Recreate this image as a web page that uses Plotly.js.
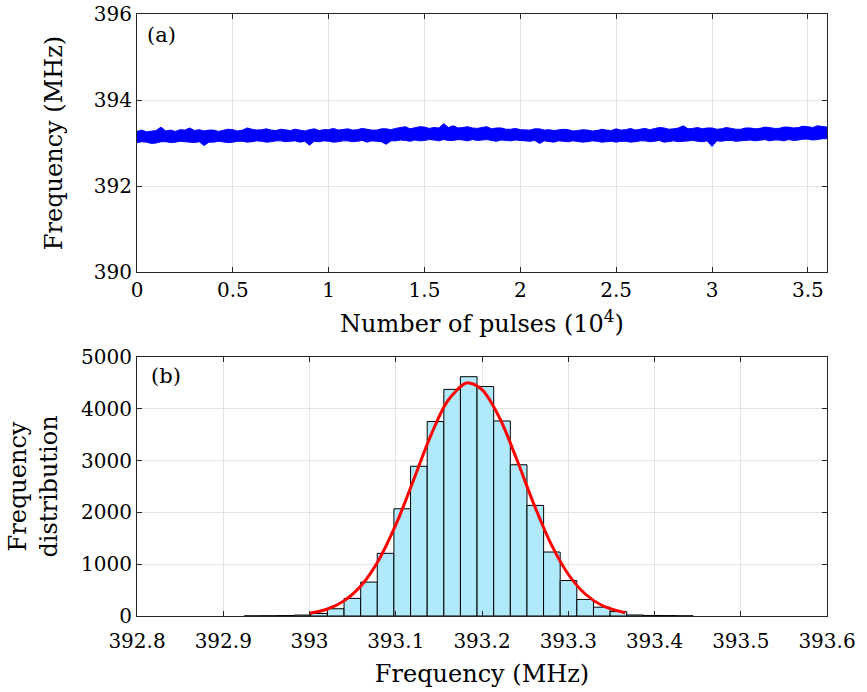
<!DOCTYPE html>
<html>
<head>
<meta charset="utf-8">
<script src="https://cdn.plot.ly/plotly-3.0.1.min.js"></script>
<style>html,body{margin:0;padding:0;background:#fff}#chart{width:867px;height:692px}</style>
</head>
<body>
<div id="chart"></div>
<script>
// (a) frequency vs pulse number (x in units of 10^4 pulses): upper / lower envelope of the noisy trace
const pulseX = [
  0,0.025,0.05,0.075,0.1,0.125,0.15,0.175,0.2,0.225,
  0.25,0.275,0.3,0.325,0.35,0.375,0.4,0.425,0.45,0.475,
  0.5,0.525,0.55,0.575,0.6,0.625,0.65,0.675,0.7,0.725,
  0.75,0.775,0.8,0.825,0.85,0.875,0.9,0.925,0.95,0.975,
  1,1.025,1.05,1.075,1.1,1.125,1.15,1.175,1.2,1.225,
  1.25,1.275,1.3,1.325,1.35,1.375,1.4,1.425,1.45,1.475,
  1.5,1.525,1.55,1.575,1.6,1.625,1.65,1.675,1.7,1.725,
  1.75,1.775,1.8,1.825,1.85,1.875,1.9,1.925,1.95,1.975,
  2,2.025,2.05,2.075,2.1,2.125,2.15,2.175,2.2,2.225,
  2.25,2.275,2.3,2.325,2.35,2.375,2.4,2.425,2.45,2.475,
  2.5,2.525,2.55,2.575,2.6,2.625,2.65,2.675,2.7,2.725,
  2.75,2.775,2.8,2.825,2.85,2.875,2.9,2.925,2.95,2.975,
  3,3.025,3.05,3.075,3.1,3.125,3.15,3.175,3.2,3.225,
  3.25,3.275,3.3,3.325,3.35,3.375,3.4,3.425,3.45,3.475,
  3.5,3.525,3.55,3.575,3.6];
const freqUpper = [
  393.27,393.30,393.26,393.28,393.29,393.37,393.28,393.30,393.27,393.31,
  393.30,393.35,393.29,393.31,393.28,393.30,393.30,393.27,393.29,393.32,
  393.31,393.28,393.30,393.35,393.32,393.30,393.31,393.33,393.30,393.29,
  393.32,393.30,393.29,393.32,393.30,393.28,393.31,393.33,393.29,393.31,
  393.31,393.34,393.30,393.32,393.33,393.30,393.31,393.34,393.32,393.30,
  393.30,393.33,393.33,393.31,393.34,393.36,393.38,393.33,393.35,393.38,
  393.37,393.34,393.36,393.35,393.45,393.36,393.40,393.35,393.36,393.38,
  393.35,393.34,393.36,393.38,393.33,393.35,393.35,393.32,393.32,393.34,
  393.31,393.30,393.30,393.33,393.33,393.30,393.31,393.29,393.30,393.32,
  393.31,393.28,393.29,393.31,393.30,393.28,393.29,393.32,393.30,393.29,
  393.33,393.30,393.31,393.34,393.30,393.32,393.34,393.31,393.33,393.36,
  393.35,393.32,393.33,393.35,393.40,393.33,393.34,393.36,393.33,393.35,
  393.35,393.32,393.33,393.36,393.34,393.32,393.32,393.35,393.35,393.33,
  393.34,393.37,393.36,393.34,393.34,393.37,393.37,393.35,393.36,393.39,
  393.38,393.36,393.40,393.38,393.37];
const freqLower = [
  393.01,393.03,393.02,392.99,393.00,393.03,393.03,393.01,393.02,393.04,
  393.03,393.02,393.01,393.03,392.94,393.02,393.02,393.04,393.03,393.01,
  393.02,393.04,393.04,393.02,393.03,393.05,393.04,393.02,393.03,393.05,
  393.05,393.03,393.04,393.05,393.02,393.04,392.95,393.04,393.03,393.05,
  393.04,393.02,393.03,393.05,393.05,393.03,393.04,393.06,393.02,393.05,
  393.04,393.03,392.97,393.05,393.05,393.07,393.06,393.04,393.07,393.05,
  393.06,393.08,393.07,393.05,393.08,393.06,393.06,393.08,393.07,393.05,
  393.08,393.06,393.07,393.08,393.06,393.04,393.07,393.06,393.05,393.07,
  393.06,393.04,393.04,393.06,392.99,393.05,393.04,393.02,393.05,393.04,
  393.03,393.05,393.04,393.02,393.03,393.05,393.04,393.02,393.03,393.04,
  393.02,393.04,393.04,393.02,393.03,393.05,393.05,393.03,393.04,393.06,
  393.02,393.04,393.05,393.03,393.04,393.06,393.06,393.04,393.03,393.05,
  392.92,393.05,393.04,393.06,393.06,393.04,393.05,393.07,393.07,393.05,
  393.06,393.08,393.05,393.07,393.07,393.05,393.08,393.06,393.07,393.09,
  393.09,393.07,393.08,393.10,393.10];

// (b) histogram of frequencies
const binCenters = [392.9340,392.9533,392.9726,392.9918,393.0111,393.0304,393.0497,393.0690,393.0882,393.1075,393.1268,393.1461,393.1654,393.1846,393.2039,393.2232,393.2425,393.2618,393.2810,393.3003,393.3196,393.3389,393.3582,393.3774,393.3967,393.4160,393.4353];
const binCounts = [2,4,8,18,50,140,340,655,1210,2070,2890,3755,4375,4620,4430,3765,2920,2135,1235,685,320,170,85,20,10,8,3];
const binWidth = 0.01928;

// Gaussian fit curve
const fitX = [393.00,393.02,393.04,393.06,393.08,393.10,393.12,393.14,393.16,393.18,393.185,393.20,393.22,393.24,393.26,393.28,393.30,393.32,393.34,393.366];
const fitY = [52,130,292,590,1073,1758,2597,3458,4149,4485,4500,4370,3837,3036,2165,1391,806,420,198,63];

const xTicksA = [0,0.5,1,1.5,2,2.5,3,3.5];
const xTickTextA = ['0','0.5','1','1.5','2','2.5','3','3.5'];
const yTicksA = [390,392,394,396];
const xTicksB = [392.8,392.9,393,393.1,393.2,393.3,393.4,393.5,393.6];
const xTickTextB = ['392.8','392.9','393','393.1','393.2','393.3','393.4','393.5','393.6'];
const yTicksB = [0,1000,2000,3000,4000,5000];

const FONT = 'DejaVu Serif, Liberation Serif, serif';
const blue = '#0000ff';

const traces = [
  {x: pulseX, y: freqLower, type: 'scatter', mode: 'lines', line: {color: blue, width: 1}, xaxis: 'x', yaxis: 'y', hoverinfo: 'skip', showlegend: false},
  {x: pulseX, y: freqUpper, type: 'scatter', mode: 'lines', line: {color: blue, width: 1}, fill: 'tonexty', fillcolor: blue, xaxis: 'x', yaxis: 'y', showlegend: false},
  {x: binCenters, y: binCounts, type: 'bar', width: binWidth, marker: {color: '#afe9fa', line: {color: '#000000', width: 1}}, xaxis: 'x2', yaxis: 'y2', showlegend: false},
  {x: fitX, y: fitY, type: 'scatter', mode: 'lines', line: {color: '#ff0000', width: 3, shape: 'spline'}, xaxis: 'x2', yaxis: 'y2', showlegend: false}
];

const axCommon = {
  showline: true, linecolor: '#262626', linewidth: 1, mirror: 'ticks',
  ticks: 'inside', ticklen: 5, tickcolor: '#262626', tickwidth: 1,
  showgrid: true, gridcolor: '#e3e3e3', gridwidth: 1, zeroline: false,
  tickfont: {family: FONT, size: 20, color: '#000'}
};
const titleFont = {family: FONT, size: 24, color: '#000'};

const layout = {
  width: 867, height: 692,
  margin: {l: 137, r: 40, t: 14, b: 76},
  paper_bgcolor: '#fff', plot_bgcolor: '#fff',
  font: {family: FONT, color: '#000'},
  xaxis: Object.assign({}, axCommon, {domain: [0, 1], range: [0, 3.6], tickvals: xTicksA, ticktext: xTickTextA, anchor: 'y',
    title: {text: 'Number of pulses (10<sup>4</sup>)', font: titleFont, standoff: 14}}),
  yaxis: Object.assign({}, axCommon, {domain: [0.5714, 1], range: [390, 396], tickvals: yTicksA, anchor: 'x',
    title: {text: 'Frequency (MHz)', font: titleFont, standoff: 24}}),
  xaxis2: Object.assign({}, axCommon, {domain: [0, 1], range: [392.8, 393.6], tickvals: xTicksB, ticktext: xTickTextB, anchor: 'y2',
    ticklabelstandoff: 7,
    title: {text: 'Frequency (MHz)', font: titleFont, standoff: 13}}),
  yaxis2: Object.assign({}, axCommon, {domain: [0, 0.4302], range: [0, 5000], tickvals: yTicksB, anchor: 'x2',
    title: {text: 'Frequency<br>distribution', font: titleFont, standoff: 16}}),
  bargap: 0,
  annotations: [
    {text: '(a)', xref: 'paper', yref: 'paper', x: 0.012, y: 0.988, xanchor: 'left', yanchor: 'top', showarrow: false, font: {family: FONT, size: 21, color: '#000'}},
    {text: '(b)', xref: 'paper', yref: 'paper', x: 0.018, y: 0.422, xanchor: 'left', yanchor: 'top', showarrow: false, font: {family: FONT, size: 21, color: '#000'}}
  ]
};

Plotly.newPlot('chart', traces, layout, {displayModeBar: false, staticPlot: true});
</script>
</body>
</html>
